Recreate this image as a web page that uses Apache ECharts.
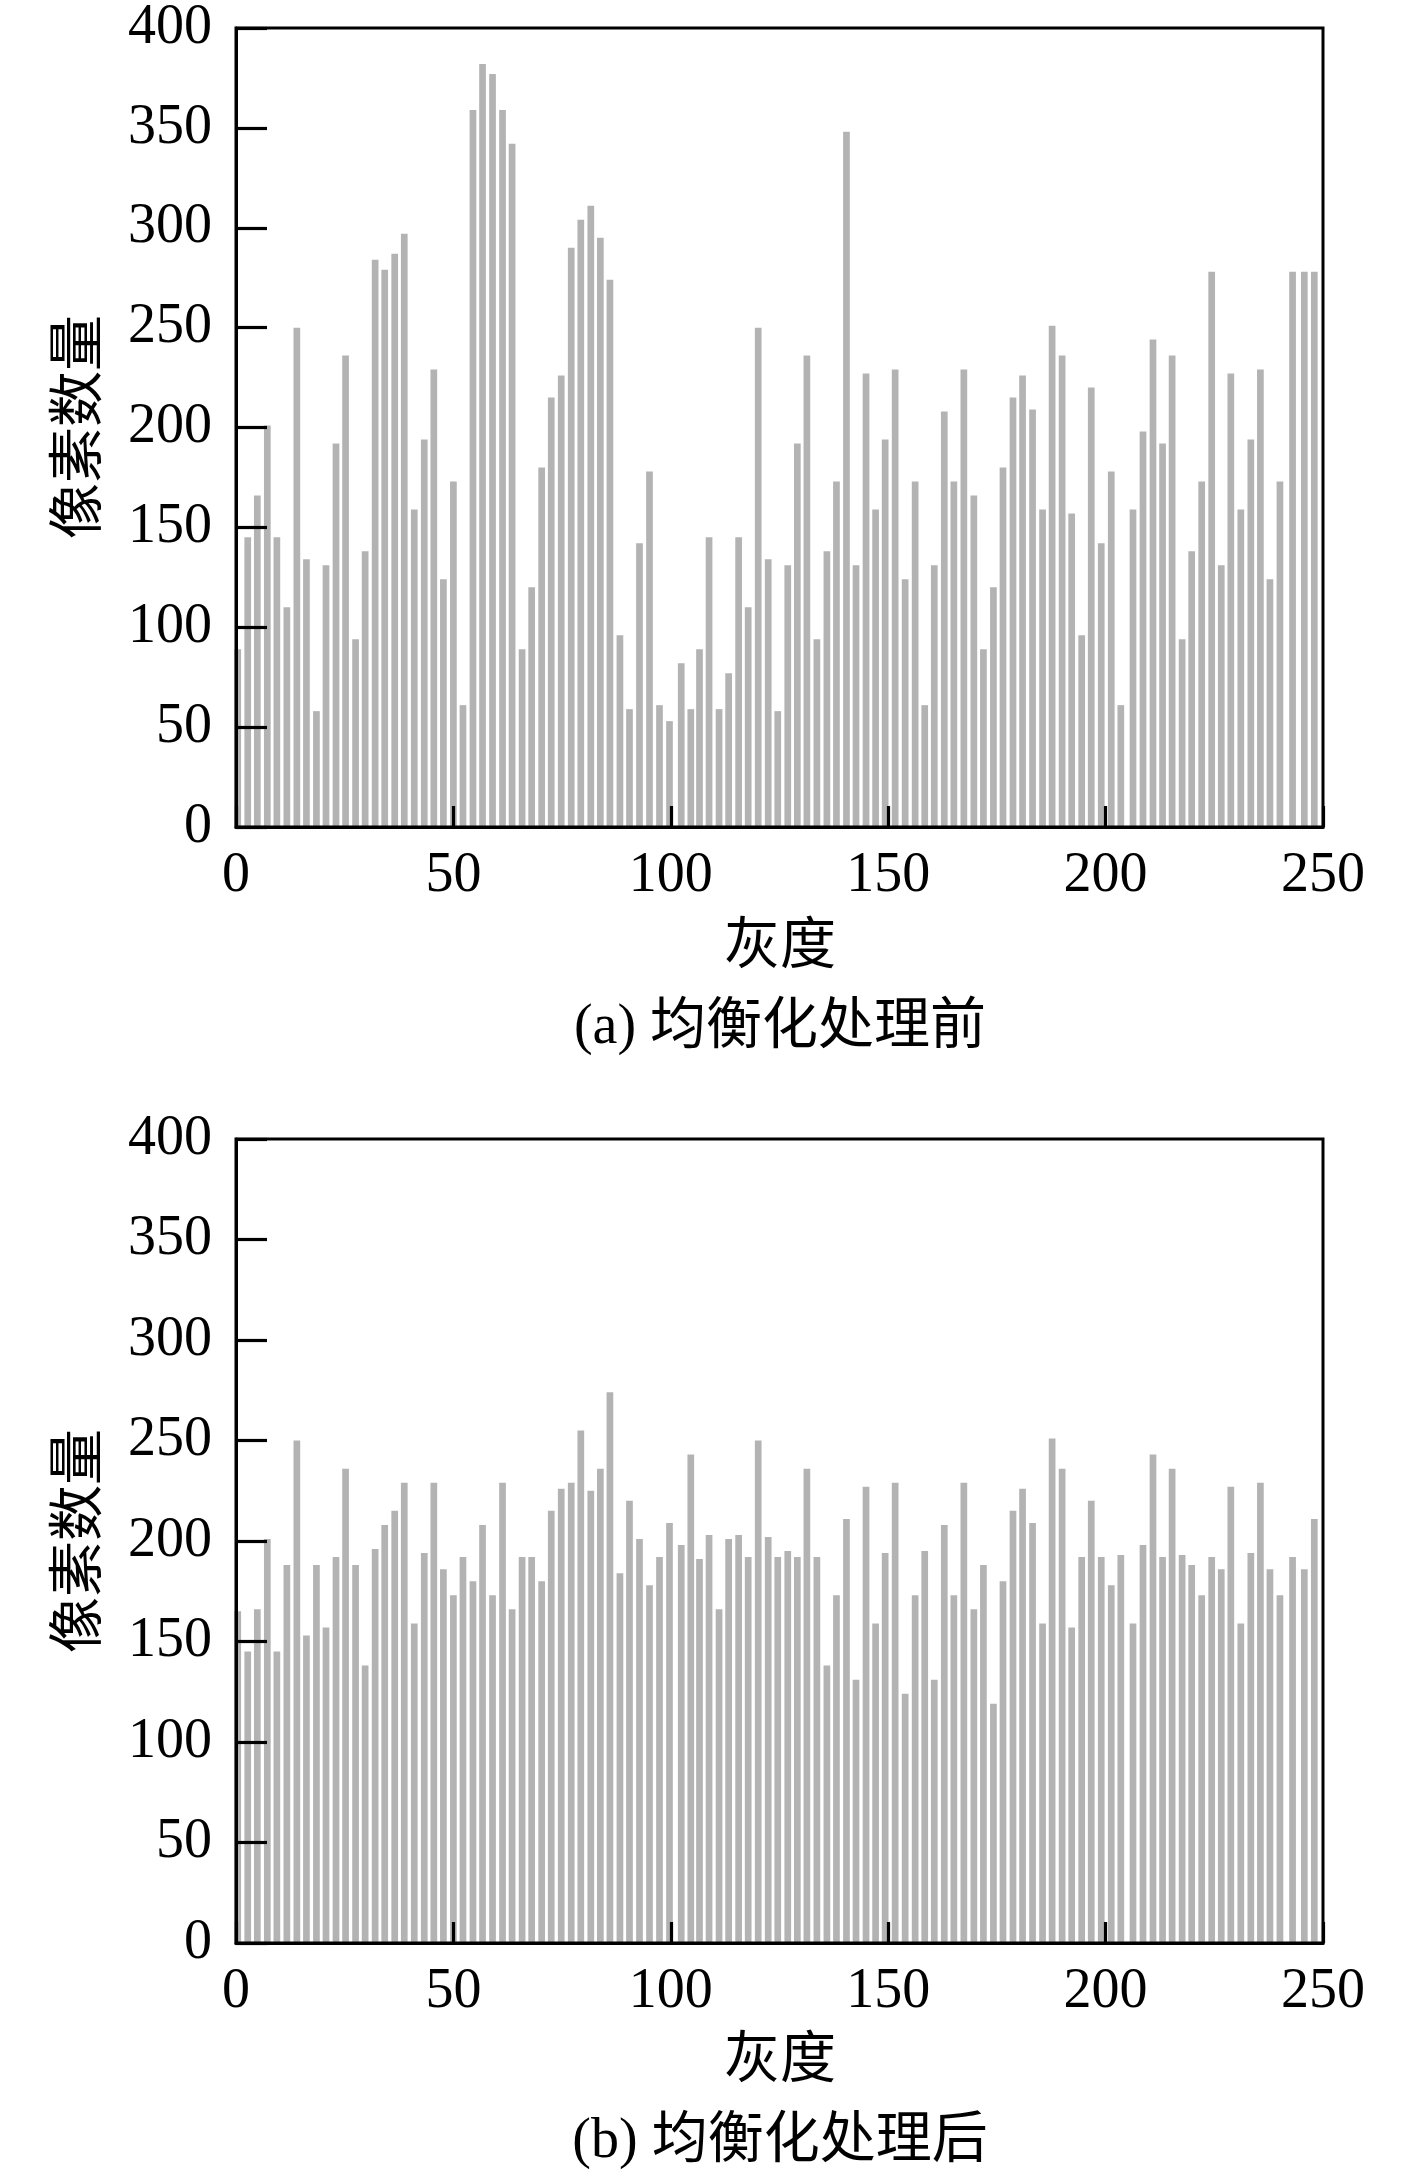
<!DOCTYPE html>
<html>
<head>
<meta charset="utf-8">
<script src="https://cdn.jsdelivr.net/npm/echarts@6/dist/echarts.min.js"></script>
<style>
html,body{margin:0;padding:0;background:#fff;}
#chart{width:1417px;height:2183px;}
</style>
</head>
<body>
<div id="chart"></div>
<script>
// Bar centre positions on the gray-level axis
const grayLevels = [
  0.4, 2.7, 4.9, 7.2, 9.4, 11.7, 14.0, 16.2, 18.5, 20.7,
  23.0, 25.2, 27.5, 29.7, 32.0, 34.2, 36.5, 38.7, 41.0, 43.3,
  45.5, 47.7, 50.0, 52.2, 54.5, 56.7, 59.0, 61.3, 63.5, 65.8,
  68.0, 70.3, 72.5, 74.8, 77.1, 79.3, 81.6, 83.8, 86.0, 88.3,
  90.5, 92.8, 95.1, 97.4, 99.7, 102.4, 104.6, 106.6, 108.8, 111.1,
  113.3, 115.6, 117.8, 120.1, 122.4, 124.6, 126.9, 129.1, 131.3, 133.6,
  135.9, 138.1, 140.4, 142.6, 144.9, 147.1, 149.3, 151.6, 153.9, 156.2,
  158.4, 160.6, 162.9, 165.1, 167.4, 169.7, 171.9, 174.2, 176.4, 178.7,
  180.9, 183.2, 185.5, 187.7, 190.0, 192.2, 194.5, 196.7, 199.0, 201.3,
  203.5, 206.3, 208.6, 210.9, 213.1, 215.3, 217.6, 219.8, 222.1, 224.4,
  226.6, 228.8, 231.1, 233.4, 235.6, 237.8, 240.1, 243.0, 245.7, 248.0
];
// (a) before equalization
const countsBefore = [
  89, 145, 166, 201, 145, 110, 250, 134, 58, 131,
  192, 236, 94, 138, 284, 279, 287, 297, 159, 194,
  229, 124, 173, 61, 359, 382, 377, 359, 342, 89,
  120, 180, 215, 226, 290, 304, 311, 295, 274, 96,
  59, 142, 178, 61, 53, 82, 59, 89, 145, 59,
  77, 145, 110, 250, 134, 58, 131, 192, 236, 94,
  138, 173, 348, 131, 227, 159, 194, 229, 124, 173,
  61, 131, 208, 173, 229, 166, 89, 120, 180, 215,
  226, 209, 159, 251, 236, 157, 96, 220, 142, 178,
  61, 159, 198, 244, 192, 236, 94, 138, 173, 278,
  131, 227, 159, 194, 229, 124, 173, 278, 278, 278
];
// (b) after equalization
const countsAfter = [
  165, 145, 166, 201, 145, 188, 250, 153, 188, 157,
  192, 236, 188, 138, 196, 208, 215, 229, 159, 194,
  229, 186, 173, 192, 180, 208, 173, 229, 166, 192,
  192, 180, 215, 226, 229, 255, 225, 236, 274, 184,
  220, 201, 178, 192, 209, 198, 243, 191, 203, 166,
  201, 203, 192, 250, 202, 192, 195, 192, 236, 192,
  138, 173, 211, 131, 227, 159, 194, 229, 124, 173,
  195, 131, 208, 173, 229, 166, 188, 119, 180, 215,
  226, 209, 159, 251, 236, 157, 192, 220, 192, 178,
  193, 159, 198, 243, 192, 236, 193, 188, 173, 192,
  186, 227, 159, 194, 229, 186, 173, 192, 186, 211
];
const xAxisName = '灰度';
const yAxisName = '像素数量';
const captions = ['(a) 均衡化处理前', '(b) 均衡化处理后'];
const xRange = [0, 250, 50];
const yRange = [0, 400, 50];

const serif = '"Liberation Serif", "Times New Roman", "Noto Sans CJK SC", serif';
const mixed = '"Liberation Serif", "Noto Sans CJK SC", serif';

const grids = [
  {left: 236, top: 28, width: 1087, height: 799},
  {left: 236, top: 1139, width: 1087, height: 804}
];

function xAx(i) {
  return {
    type: 'value', gridIndex: i, min: xRange[0], max: xRange[1], interval: xRange[2],
    zlevel: 1, z: 20,
    axisLine: {show: true, lineStyle: {color: '#000', width: 3}},
    axisTick: {show: true, inside: true, length: 21, lineStyle: {color: '#000', width: 3.2}},
    axisLabel: {color: '#000', fontFamily: serif, fontSize: 56, margin: 21},
    splitLine: {show: false}
  };
}
function yAx(i) {
  return {
    type: 'value', gridIndex: i, min: yRange[0], max: yRange[1], interval: yRange[2],
    zlevel: 1, z: 20,
    axisLine: {show: true, lineStyle: {color: '#000', width: 3}},
    axisTick: {show: true, inside: true, length: 31, lineStyle: {color: '#000', width: 3.2}},
    axisLabel: {color: '#000', fontFamily: serif, fontSize: 56, margin: 24},
    splitLine: {show: false}
  };
}
function barSeries(i, counts) {
  return {
    type: 'bar', xAxisIndex: i, yAxisIndex: i, zlevel: 0, z: 1,
    data: grayLevels.map((g, k) => [g, counts[k]]),
    barWidth: 6.7,
    itemStyle: {color: '#b3b3b3'},
    clip: true,
    silent: true
  };
}
function txt(text, x, y, rot) {
  return {
    type: 'text', x: x, y: y, rotation: rot || 0, z: 10,
    style: {text: text, fontFamily: mixed, fontSize: 56, fill: '#000',
            textAlign: 'center', textVerticalAlign: 'middle'}
  };
}

const chart = echarts.init(document.getElementById('chart'), null, {renderer: 'canvas'});
chart.setOption({
  backgroundColor: '#fff',
  animation: false,
  grid: grids.map(g => Object.assign({show: true, borderColor: '#000', borderWidth: 3, backgroundColor: 'transparent', zlevel: 1, z: 20}, g)),
  xAxis: [xAx(0), xAx(1)],
  yAxis: [yAx(0), yAx(1)],
  series: [barSeries(0, countsBefore), barSeries(1, countsAfter)],
  graphic: [
    txt(yAxisName, 81, 427, Math.PI / 2),
    txt(xAxisName, 780, 948),
    txt(captions[0], 780, 1028),
    txt(yAxisName, 81, 1541, Math.PI / 2),
    txt(xAxisName, 780, 2062),
    txt(captions[1], 780, 2142)
  ]
});
</script>
</body>
</html>
